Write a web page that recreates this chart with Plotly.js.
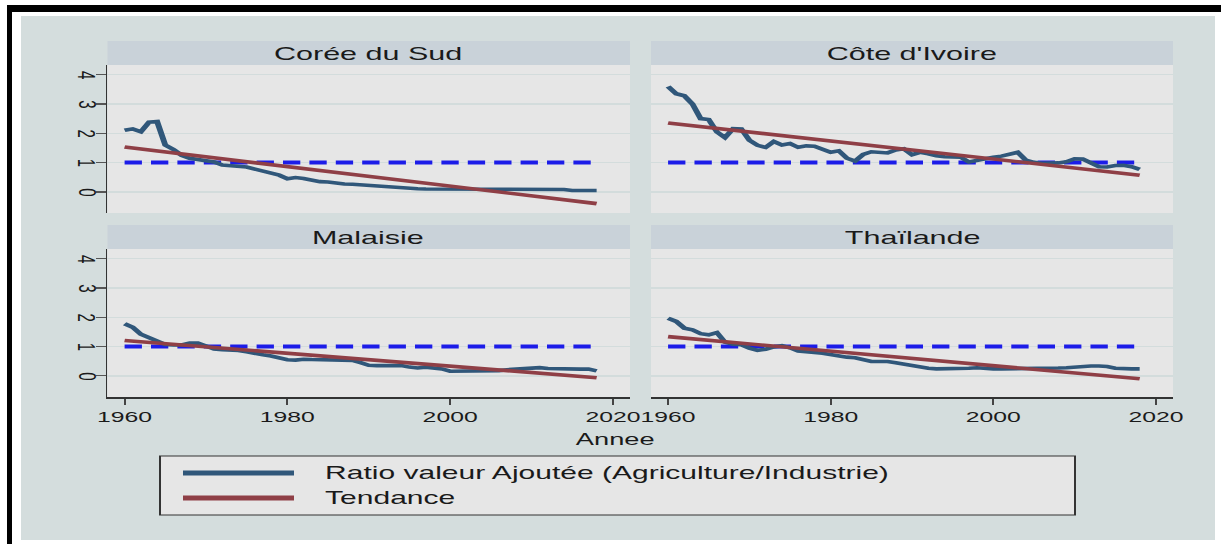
<!DOCTYPE html>
<html><head><meta charset="utf-8">
<script src="https://cdn.plot.ly/plotly-3.0.1.min.js"></script>
<style>
html,body{margin:0;padding:0;background:#fff;overflow:hidden;width:1221px;height:544px;}
#chart{width:740px;height:544px;transform:scaleX(1.65);transform-origin:0 0;}
</style></head><body><div id="chart"></div>
<script>
// ---------- data ----------
const years = [1960,1961,1962,1963,1964,1965,1966,1967,1968,1969,
  1970,1971,1972,1973,1974,1975,1976,1977,1978,1979,
  1980,1981,1982,1983,1984,1985,1986,1987,1988,1989,
  1990,1991,1992,1993,1994,1995,1996,1997,1998,1999,
  2000,2001,2002,2003,2004,2005,2006,2007,2008,2009,
  2010,2011,2012,2013,2014,2015,2016,2017,2018];
const panelTitles = ["Corée du Sud", "Côte d'Ivoire", "Malaisie", "Thaïlande"];
const ratioKorea = [2.10,2.15,2.05,2.38,2.40,1.60,1.45,1.25,1.15,1.10,
  1.05,1.02,0.92,0.90,0.90,0.85,0.78,0.72,0.65,0.57,
  0.45,0.49,0.46,0.40,0.35,0.34,0.29,0.27,0.26,0.24,
  0.20,0.18,0.16,0.15,0.14,0.12,0.11,0.10,0.10,0.09,
  0.08,0.08,0.08,0.08,0.08,0.08,0.08,0.08,0.08,0.08,
  0.08,0.08,0.08,0.08,0.08,0.05,0.05,0.05,0.05];
const ratioIvoryCoast = [3.60,3.35,3.28,3.00,2.50,2.47,2.05,1.85,2.16,2.15,
  1.76,1.59,1.52,1.72,1.60,1.65,1.52,1.57,1.56,1.45,
  1.35,1.40,1.15,1.05,1.28,1.37,1.36,1.33,1.43,1.47,
  1.27,1.35,1.30,1.23,1.20,1.19,1.18,1.02,1.08,1.13,
  1.18,1.22,1.28,1.35,1.08,1.01,0.98,0.97,0.99,1.03,
  1.13,1.12,0.98,0.86,0.85,0.90,0.91,0.86,0.77];
const ratioMalaysia = [1.78,1.66,1.42,1.30,1.16,1.07,1.06,1.06,1.12,1.12,
  1.02,0.92,0.89,0.89,0.87,0.82,0.76,0.72,0.68,0.60,
  0.55,0.54,0.57,0.56,0.55,0.55,0.55,0.55,0.53,0.45,
  0.36,0.35,0.35,0.35,0.35,0.30,0.27,0.30,0.26,0.24,
  0.16,0.16,0.17,0.15,0.15,0.15,0.18,0.21,0.22,0.24,
  0.25,0.28,0.25,0.24,0.23,0.23,0.23,0.23,0.17];
const ratioThailand = [1.97,1.86,1.63,1.57,1.44,1.40,1.48,1.15,1.08,1.06,
  0.95,0.87,0.91,0.99,1.03,0.96,0.85,0.81,0.80,0.77,
  0.73,0.66,0.64,0.62,0.55,0.49,0.49,0.49,0.45,0.40,
  0.35,0.33,0.26,0.24,0.24,0.24,0.25,0.26,0.28,0.25,
  0.24,0.24,0.24,0.24,0.25,0.26,0.27,0.27,0.27,0.28,
  0.30,0.34,0.34,0.34,0.32,0.26,0.24,0.24,0.24];
const trendYears = [1960, 2018];
const trendKorea = [1.53, -0.40];
const trendIvoryCoast = [2.35, 0.57];
const trendMalaysia = [1.21, -0.06];
const trendThailand = [1.34, -0.10];
const benchmarkYears = [1960, 2018];
const benchmarkValues = [1, 1];
const xTickValues = [1960, 1980, 2000, 2020];
const yTickValues = [0, 1, 2, 3, 4];
const yTickLabels = ["0", "1", "2", "3", "4"];
const legendLabels = ["Ratio valeur Ajoutée (Agriculture/Industrie)", "Tendance"];
const xAxisTitle = "Annee";

// ---------- styling / layout ----------
const W = 1221, H = 544;
const px = x => x / W;
const py = y => 1 - y / H;
const FONT = '"Liberation Sans", Arial, sans-serif';
const C_SERIES = '#30577a', C_TREND = '#8f3f46', C_REF = '#1c1ce8';
const C_BG = '#d4dddd', C_PLOT = '#e6e6e6', C_STRIP = '#c9d2d9', C_GRID = '#d3dcdc';

const series = [ratioKorea, ratioIvoryCoast, ratioMalaysia, ratioThailand];
const trends = [trendKorea, trendIvoryCoast, trendMalaysia, trendThailand];
const axisIds = ['', '2', '3', '4'];

const traces = [];
for (let i = 0; i < 4; i++) {
  const xa = 'x' + axisIds[i], ya = 'y' + axisIds[i];
  traces.push({x: benchmarkYears, y: benchmarkValues, xaxis: xa, yaxis: ya, mode: 'lines',
    line: {color: C_REF, width: 4, dash: '10.5px,5.5px'}, showlegend: false, hoverinfo: 'skip'});
  traces.push({x: years, y: series[i], xaxis: xa, yaxis: ya, mode: 'lines', name: legendLabels[0],
    line: {color: C_SERIES, width: 3.6}, showlegend: false});
  traces.push({x: trendYears, y: trends[i], xaxis: xa, yaxis: ya, mode: 'lines', name: legendLabels[1],
    line: {color: C_TREND, width: 3.6}, showlegend: false});
}

const colX = [[107.5, 630], [651, 1173]];
const rowY = [[65, 213], [249, 397]];
const stripY = [[41, 65], [225, 249]];
const xRange = [1957.9, 2022.1];
const yRange = [-0.72, 4.33];

const layout = {
  width: 740, height: 544,
  margin: {l: 0, r: 0, t: 0, b: 0},
  paper_bgcolor: C_BG, plot_bgcolor: C_PLOT,
  font: {family: FONT, color: '#1a1a1a'},
  showlegend: false,
  shapes: [], annotations: []
};

for (let i = 0; i < 4; i++) {
  const c = i % 2, r = Math.floor(i / 2);
  const xk = 'xaxis' + axisIds[i], yk = 'yaxis' + axisIds[i];
  const isBottom = r === 1, isLeft = c === 0;
  layout[xk] = {
    domain: [px(colX[c][0]), px(colX[c][1])], range: xRange, anchor: 'y' + axisIds[i],
    tickmode: 'array', tickvals: xTickValues, showgrid: false, zeroline: false,
    showline: isBottom, linecolor: '#333', linewidth: 1.5,
    ticks: isBottom ? 'outside' : '', ticklen: 6, tickwidth: 1.2, tickcolor: '#444',
    showticklabels: isBottom, tickfont: {size: 15, color: '#1a1a1a', family: FONT}
  };
  layout[yk] = {
    domain: [py(rowY[r][1]), py(rowY[r][0])], range: yRange, anchor: 'x' + axisIds[i],
    tickmode: 'array', tickvals: yTickValues, showgrid: true, gridcolor: C_GRID, gridwidth: 1.5,
    zeroline: false, showline: isLeft, linecolor: '#333', linewidth: 1.2,
    ticks: isLeft ? 'outside' : '', ticklen: 6, tickwidth: 1.2, tickcolor: '#555',
    showticklabels: false
  };
  // y tick labels (rotated, Stata style) placed through the axis scale
  if (isLeft) {
    yTickValues.forEach((v, j) => layout.annotations.push({xref: 'paper', yref: 'y' + axisIds[i],
      x: px(87), y: v, text: yTickLabels[j], textangle: 90, showarrow: false,
      xanchor: 'center', yanchor: 'middle', font: {size: 15, color: '#1a1a1a', family: FONT}}));
  }
  // strip
  layout.shapes.push({type: 'rect', xref: 'paper', yref: 'paper', layer: 'below',
    x0: px(colX[c][0]), x1: px(colX[c][1]), y0: py(stripY[r][1]), y1: py(stripY[r][0]),
    fillcolor: C_STRIP, line: {width: 0}});
  layout.annotations.push({xref: 'paper', yref: 'paper', showarrow: false,
    x: px((colX[c][0] + colX[c][1]) / 2), y: py((stripY[r][0] + stripY[r][1]) / 2 + 0.5),
    xanchor: 'center', yanchor: 'middle', text: panelTitles[i],
    font: {size: 18.5, color: '#1a1a1a', family: FONT}});
}

// outer frame: white gaps and black bands
const rects = [
  [0, 0, W, 16, '#ffffff'], [0, 0, 21, H, '#ffffff'], [1215, 0, W, H, '#ffffff'], [0, 540, W, H, '#ffffff'],
  [7, 5, W, 12, '#000000'], [7, 5, 12, H, '#000000']
];
rects.forEach(([x0, y0, x1, y1, col]) => layout.shapes.push({type: 'rect', xref: 'paper', yref: 'paper',
  layer: 'above', x0: px(x0), x1: px(x1), y0: py(y1), y1: py(y0), fillcolor: col, line: {width: 0}}));

// x title
layout.annotations.push({xref: 'paper', yref: 'paper', showarrow: false, x: px(616), y: py(439),
  xanchor: 'center', yanchor: 'middle', text: xAxisTitle, font: {size: 16.5, color: '#1a1a1a', family: FONT}});

// legend box
layout.shapes.push({type: 'rect', xref: 'paper', yref: 'paper', layer: 'above',
  x0: px(160), x1: px(1075), y0: py(515), y1: py(456), fillcolor: C_PLOT, line: {color: '#333', width: 1.2}});
const legColors = [C_SERIES, C_TREND];
const legY = [473, 498];
for (let k = 0; k < 2; k++) {
  layout.shapes.push({type: 'line', xref: 'paper', yref: 'paper', layer: 'above',
    x0: px(183), x1: px(294), y0: py(legY[k]), y1: py(legY[k]), line: {color: legColors[k], width: 5}});
  layout.annotations.push({xref: 'paper', yref: 'paper', showarrow: false, x: px(322), y: py(legY[k]),
    xanchor: 'left', yanchor: 'middle', text: legendLabels[k], font: {size: 18.2, color: '#1a1a1a', family: FONT}});
}

Plotly.newPlot('chart', traces, layout, {staticPlot: true, displayModeBar: false});
</script></body></html>
